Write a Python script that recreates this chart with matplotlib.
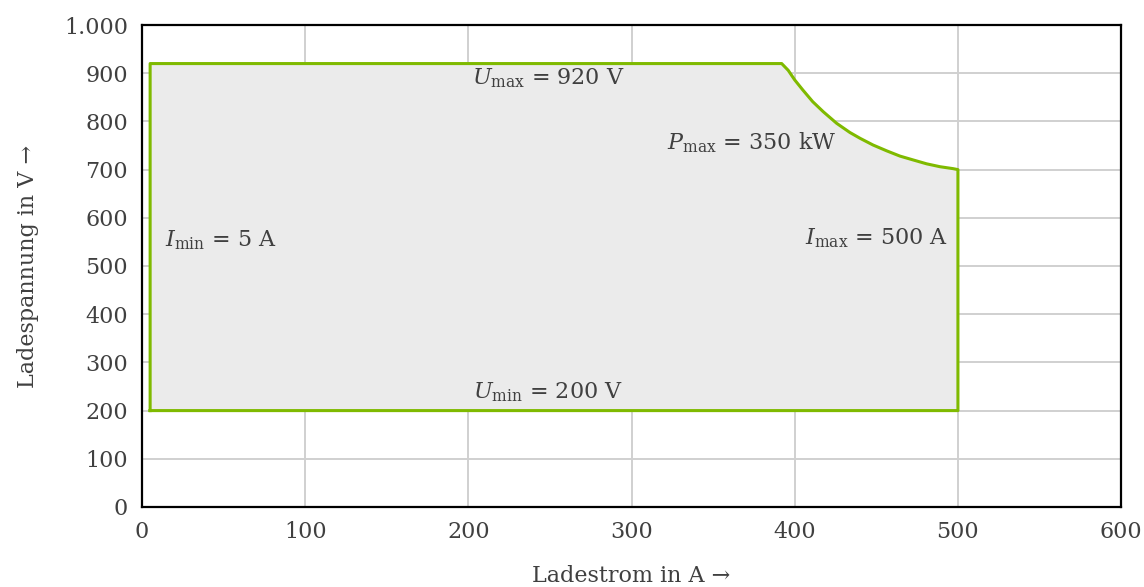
import numpy as np
import matplotlib.pyplot as plt
import matplotlib as mpl
from matplotlib.ticker import FuncFormatter

mpl.rcParams['font.family'] = ['DejaVu Serif']
mpl.rcParams['mathtext.fontset'] = 'custom'
mpl.rcParams['mathtext.rm'] = 'DejaVu Serif'
mpl.rcParams['mathtext.it'] = 'DejaVu Serif:italic'

# operating area boundary (Ladestrom A, Ladespannung V)
strom = [5, 5, 392, 396, 400, 405, 411, 417.5, 425.7, 433.8, 440, 448, 456.3,
         464.5, 472.6, 480.8, 489, 497, 500, 500, 5]
spannung = [200, 920, 920, 906, 886, 865, 841, 820, 796, 777, 765, 751, 739,
            728, 720, 712, 706, 702, 700, 200, 200]

labels = [r'$I_{\mathrm{min}}$ = 5 A', r'$U_{\mathrm{max}}$ = 920 V',
          r'$P_{\mathrm{max}}$ = 350 kW', r'$I_{\mathrm{max}}$ = 500 A',
          r'$U_{\mathrm{min}}$ = 200 V']
label_x = [14, 249, 322, 494, 249]
label_y = [554, 890, 755, 558, 239]
label_ha = ['left', 'center', 'left', 'right', 'center']

txt = '#404040'
fig = plt.figure(figsize=(11.44, 5.87), dpi=100)
ax = fig.add_axes([0.1241, 0.1363, 0.8559, 0.8211])
ax.set_xlim(0, 600)
ax.set_ylim(0, 1000)
ax.set_xticks(np.arange(0, 601, 100))
ax.set_yticks(np.arange(0, 1001, 100))
ax.yaxis.set_major_formatter(FuncFormatter(lambda v, p: f'{int(v):,}'.replace(',', '.')))
ax.grid(True, color='#d0d0d0', lw=1.4)
ax.set_axisbelow(True)
for s in ax.spines.values():
    s.set_color('black')
    s.set_linewidth(1.6)
ax.tick_params(length=0, labelsize=16, colors=txt, pad=10)

ax.fill(strom, spannung, color='#ebebeb', zorder=2)
ax.plot(strom, spannung, color='#7fba00', lw=2.2, zorder=3)

for t, x, y, ha in zip(labels, label_x, label_y, label_ha):
    ax.text(x, y, t, ha=ha, va='center', fontsize=16, color=txt, zorder=4)

ax.set_xlabel('Ladestrom in A →', fontsize=16, color=txt, labelpad=16)
ax.set_ylabel('Ladespannung in V →', fontsize=16, color=txt, labelpad=18)

fig.savefig('out.png', dpi=100, facecolor='w')
